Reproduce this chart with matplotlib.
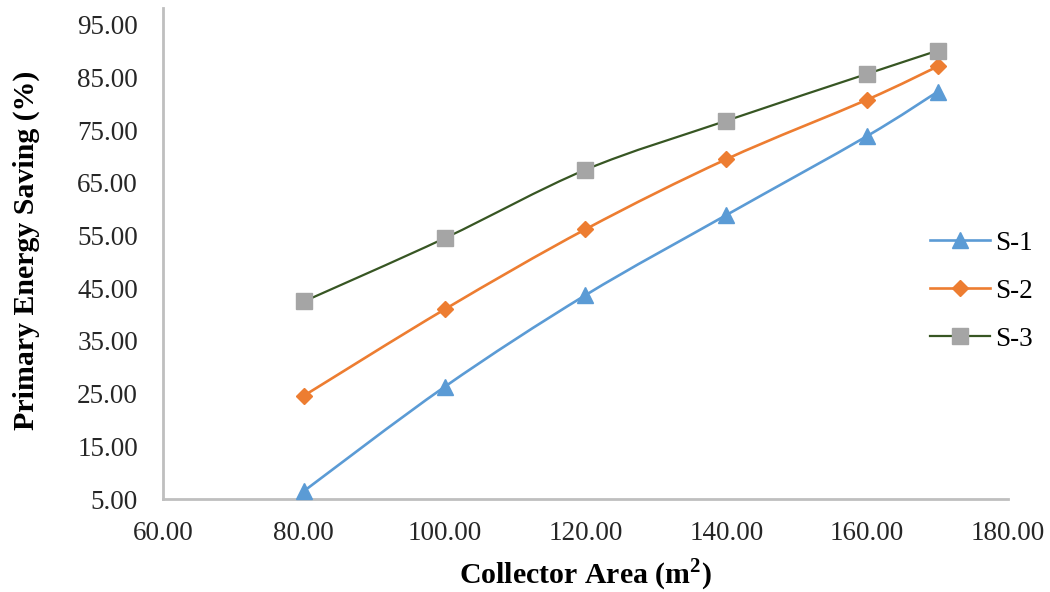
import matplotlib
matplotlib.use('Agg')
import matplotlib.pyplot as plt
from matplotlib.path import Path
from matplotlib.patches import PathPatch
from matplotlib.lines import Line2D

area = [80, 100, 120, 140, 160, 170]
s1 = [6.5, 26.3, 43.7, 58.9, 73.9, 82.3]
s2 = [24.6, 41.0, 56.2, 69.5, 80.8, 87.1]
s3 = [42.5, 54.5, 67.5, 76.8, 85.7, 90.1]
names = ['S-1', 'S-2', 'S-3']
x_ticks = [60, 80, 100, 120, 140, 160, 180]
y_ticks = [5, 15, 25, 35, 45, 55, 65, 75, 85, 95]

plt.rcParams['font.family'] = ['Liberation Serif', 'DejaVu Serif']
plt.rcParams['mathtext.fontset'] = 'custom'
plt.rcParams['mathtext.rm'] = 'Liberation Serif'
plt.rcParams['mathtext.bf'] = 'Liberation Serif:bold'


def smooth_path(x, y):
    # catmull-rom segments as cubic bezier, like excel's smoothed line
    pts = list(zip(x, y))
    verts = [pts[0]]
    codes = [Path.MOVETO]
    n = len(pts)
    for i in range(n - 1):
        p0 = pts[i - 1] if i > 0 else pts[i]
        p1 = pts[i]
        p2 = pts[i + 1]
        p3 = pts[i + 2] if i + 2 < n else pts[i + 1]
        c1 = (p1[0] + (p2[0] - p0[0]) / 6, p1[1] + (p2[1] - p0[1]) / 6)
        c2 = (p2[0] - (p3[0] - p1[0]) / 6, p2[1] - (p3[1] - p1[1]) / 6)
        verts += [c1, c2, p2]
        codes += [Path.CURVE4] * 3
    return Path(verts, codes)


fig = plt.figure(figsize=(10.5, 5.92), dpi=100)
ax = fig.add_axes([0.1552, 0.157, 0.8048, 0.8295])

styles = [
    (s1, '#5B9BD5', '#5B9BD5', '^', 11, 1.9),
    (s2, '#ED7D31', '#ED7D31', 'D', 8.5, 1.9),
    (s3, '#375623', '#A5A5A5', 's', 11.5, 1.6),
]
handles = []
for (vals, lc, mc, mk, ms, lw), name in zip(styles, names):
    ax.add_patch(PathPatch(smooth_path(area, vals), fill=False, edgecolor=lc, lw=lw, zorder=2))
    ax.plot(area, vals, linestyle='none', marker=mk, markersize=ms,
            color=mc, markeredgecolor=mc, zorder=3, clip_on=False)
    handles.append(Line2D([], [], color=lc, lw=lw, marker=mk, markersize=ms,
                          markerfacecolor=mc, markeredgecolor=mc))

ax.set_xlim(60, 180)
ax.set_ylim(5, 98.2)
ax.set_xticks(x_ticks)
ax.set_yticks(y_ticks)
ax.set_xticklabels(['%.2f' % v for v in x_ticks])
ax.set_yticklabels(['%.2f' % v for v in y_ticks])
ax.tick_params(length=0, labelsize=19.5, colors='#262626')
ax.tick_params(axis='x', pad=16)
ax.tick_params(axis='y', pad=18)

for side in ['top', 'right']:
    ax.spines[side].set_visible(False)
for side in ['left', 'bottom']:
    ax.spines[side].set_color('#BFBFBF')
    ax.spines[side].set_linewidth(2)

ax.set_xlabel('Collector Area (m$^{\\mathbf{2}}$)', fontsize=21.5, fontweight='bold', va='center')
ax.set_ylabel('Primary Energy Saving (%)', fontsize=21.5, fontweight='bold', va='center')
ax.xaxis.set_label_coords(0.5, -0.155)
ax.yaxis.set_label_coords(-0.162, 0.507)

ax.legend(handles, names, loc='center left', bbox_to_anchor=(0.886, 0.508),
          bbox_transform=fig.transFigure, frameon=False, fontsize=19.5,
          borderpad=0, borderaxespad=0, handlelength=2.2, labelspacing=0.85,
          handletextpad=0.2)

fig.savefig('out.png', dpi=100)
